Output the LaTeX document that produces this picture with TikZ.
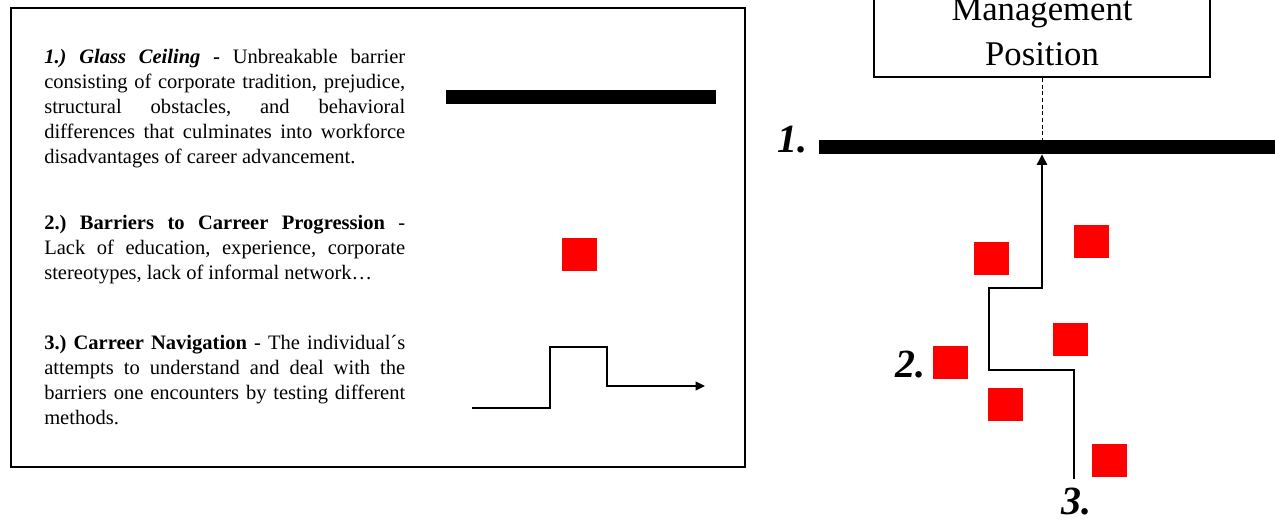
\documentclass[tikz,border=0pt]{standalone}
\usepackage{fontspec}
\setmainfont{Liberation Serif}
\usetikzlibrary{arrows.meta}
\tolerance=10000
\hbadness=10000
\frenchspacing
\begin{document}
\begin{tikzpicture}[x=0.75pt,y=-0.75pt,
  txt/.style={anchor=base west, text width=270.75pt, align=justify, inner sep=0pt,
    font=\fontsize{15.4}{18.75}\selectfont\frenchspacing},
  redsq/.style={fill=red, draw=none, inner sep=0pt, minimum width=26.25pt, minimum height=24.75pt},
  barbox/.style={fill=black, draw=none, inner sep=0pt, minimum height=10.5pt},
  numlbl/.style={inner sep=0pt, font=\fontsize{30}{30}\selectfont\bfseries\itshape},
  steppath/.style={line width=1.9pt, line join=miter},
  legpath/.style={line width=1.5pt, line join=miter}]
\useasboundingbox (0,0) rectangle (1275,521);
\clip (0,0) rectangle (1275,521);

% legend frame
\node[draw, line width=1.5pt, inner sep=0pt, minimum width=550.5pt, minimum height=344.25pt, anchor=north west] (frame) at (10,7) {};

% legend texts
\node[txt] (t1) at (44,63) {{\bfseries\itshape 1.) Glass Ceiling -} Unbreakable barrier\linebreak consisting of corporate tradition, prejudice,\linebreak structural obstacles, and behavioral\linebreak differences that culminates into workforce\linebreak disadvantages of career advancement.};
\node[txt] (t2) at (44,229) {{\bfseries 2.) Barriers to Carreer Progression} -\linebreak Lack of education, experience, corporate\linebreak stereotypes, lack of informal network…};
\node[txt] (t3) at (44,349) {{\bfseries 3.) Carreer Navigation} - The individual´s\linebreak attempts to understand and deal with the\linebreak barriers one encounters by testing different\linebreak methods.};

% legend symbols
\node[barbox, minimum width=202.5pt] (lbar) at (581,97) {};
\node[redsq] (lsq) at (579.5,254.5) {};
\coordinate (l0) at (472,408);
\coordinate (l1) at (705,386);
\draw[legpath, -{Triangle[length=7pt,width=6.5pt]}] (l0) -| (550,347) -| (607,386) -- (l1);

% right diagram
\node[draw, line width=1.6pt, minimum width=252pt, inner ysep=8.25pt, anchor=south, align=center,
  font=\fontsize{26}{33.75}\selectfont] (mgmt) at (1042,78) {Management\\Position};
\node[barbox, minimum width=342pt] (bar) at (1047,147) {};
\coordinate (tip) at (bar.south -| mgmt.south);
\draw[dashed, line width=0.6pt, dash pattern=on 3pt off 2pt] (mgmt.south) -- (bar.north -| mgmt.south);

\node[numlbl, anchor=base east] (n1) at (808,152) {1.};
\node[numlbl, anchor=base east] (n2) at (926,377) {2.};
\node[numlbl, anchor=base west] (n3) at (1061,514) {3.};

\node[redsq] (r1) at (991,258) {};
\node[redsq] (r2) at (1091.5,241) {};
\node[redsq] (r3) at (1070.5,339.5) {};
\node[redsq] (r4) at (950,362) {};
\node[redsq] (r5) at (1005.5,404) {};
\node[redsq] (r6) at (1109.5,460) {};

\coordinate (s0) at (1074,479);
\draw[steppath, -{Triangle[length=8pt,width=7.5pt]}] (s0) -- (1074,370) -| (989,288) -| (tip);
\end{tikzpicture}
\end{document}
